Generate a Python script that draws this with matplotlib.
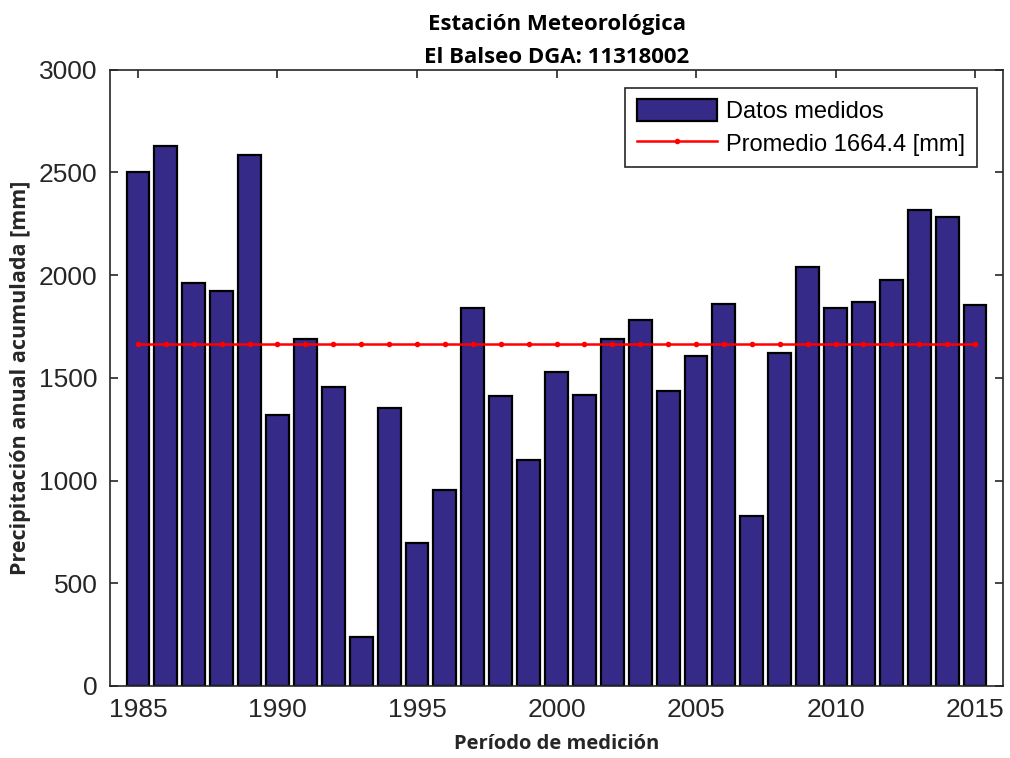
import matplotlib.pyplot as plt

years = list(range(1985, 2016))
precip = [2500, 2631, 1964, 1921, 2587, 1317, 1690, 1454, 238, 1353,
          694, 956, 1839, 1411, 1099, 1528, 1417, 1690, 1784, 1437,
          1605, 1859, 827, 1623, 2040, 1839, 1871, 1976, 2319, 2282,
          1853]
mean_value = 1664.4
mean_label = "Promedio 1664.4 [mm]"
bar_label = "Datos medidos"
title_lines = ["Estación Meteorológica", "El Balseo DGA: 11318002"]
xlabel = "Período de medición"
ylabel = "Precipitación anual acumulada [mm]"
xticks = [1985, 1990, 1995, 2000, 2005, 2010, 2015]
yticks = [0, 500, 1000, 1500, 2000, 2500, 3000]

BAR_COLOR = "#352a87"
TICK_FONT = "Liberation Sans"
LABEL_FONT = "Open Sans"
INK = "#262626"

fig = plt.figure(figsize=(10.1, 7.58), dpi=100)
ax = fig.add_axes([0.109, 0.095, 0.884, 0.813])

bars = ax.bar(years, precip, width=0.82, color=BAR_COLOR, edgecolor="black",
              linewidth=1.6, label=bar_label, zorder=2)
mean_line, = ax.plot(years, [mean_value] * len(years), color="red", linewidth=1.8,
                     marker=".", markersize=6, label=mean_label, zorder=3)

ax.set_xlim(1984, 2016)
ax.set_ylim(0, 3000)
ax.set_xticks(xticks)
ax.set_yticks(yticks)
ax.tick_params(direction="in", length=6, width=1.2, top=True, right=True,
               labelsize=19, colors=INK)
ax.tick_params(axis="y", pad=9)
ax.tick_params(axis="x", pad=9)
for lab in ax.get_xticklabels() + ax.get_yticklabels():
    lab.set_fontfamily(TICK_FONT)
for spine in ax.spines.values():
    spine.set_linewidth(1.2)
    spine.set_color(INK)

ax.set_xlabel(xlabel, fontsize=14.5, fontweight="bold", family=LABEL_FONT,
              color=INK, labelpad=8)
ax.set_ylabel(ylabel, fontsize=15.5, fontweight="bold", family=LABEL_FONT,
              color=INK, labelpad=6)
ax.set_title("\n".join(title_lines), fontsize=16, fontweight="bold",
             family=LABEL_FONT, color="black", pad=5, linespacing=1.75)

leg = ax.legend([bars, mean_line], [bar_label, mean_label],
                loc="upper right", bbox_to_anchor=(0.971, 0.971),
                borderaxespad=0, prop={"family": TICK_FONT, "size": 17},
                fancybox=False, framealpha=1, edgecolor=INK,
                handlelength=3.4, handleheight=1.05, borderpad=0.5,
                labelspacing=0.35, handletextpad=0.4)
leg.get_frame().set_linewidth(1.2)

fig.savefig("out.png", dpi=100)
